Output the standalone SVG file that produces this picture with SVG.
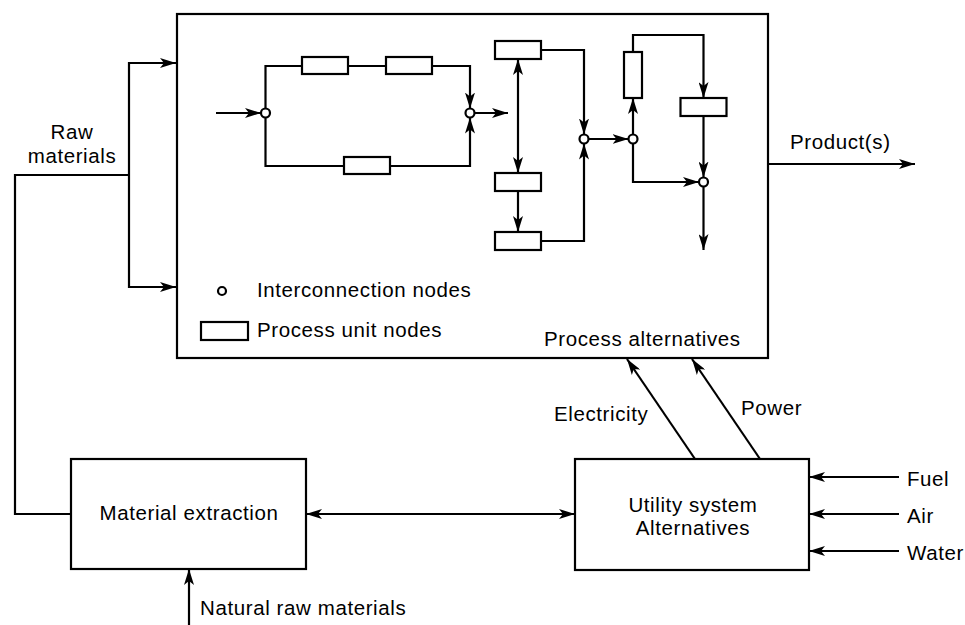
<svg xmlns="http://www.w3.org/2000/svg" width="965" height="625" viewBox="0 0 965 625">
<defs>
<marker id="ah" viewBox="0 0 16 10" refX="16" refY="5" markerWidth="16" markerHeight="10" markerUnits="userSpaceOnUse" orient="auto-start-reverse">
<path d="M0,0 L16,5 L0,10 L4,5 z" fill="#000"/>
</marker>
<style>
.b{fill:#fff;stroke:#000;stroke-width:2.2}
.l{fill:none;stroke:#000;stroke-width:2.2}
.a{fill:none;stroke:#000;stroke-width:2.2;marker-end:url(#ah)}
.d{fill:none;stroke:#000;stroke-width:2.2;marker-start:url(#ah);marker-end:url(#ah)}
.n{fill:#fff;stroke:#000;stroke-width:2.2}
text{font-family:"Liberation Sans",Arial,sans-serif;font-size:20.5px;letter-spacing:0.6px;fill:#000}
.c{text-anchor:middle}
</style>
</defs>
<rect width="965" height="625" fill="#fff"/>

<g id="process-alternatives">
<rect class="b" x="177" y="14" width="591" height="344"/>
<text x="544" y="346">Process alternatives</text>
</g>

<g id="connectors">
<path class="l" d="M71,514 H15 V175 H129"/>
<path class="d" d="M176,63 H129 V287 H176"/>
<path class="a" d="M216,113 H261"/>
<path class="a" d="M265.5,108.5 V66 H470 V108.5"/>
<path class="a" d="M265.5,117.5 V166 H470 V117.5"/>
<path class="a" d="M474.5,113 H508"/>
<path class="d" d="M518,59 V173"/>
<path class="a" d="M518,191 V232"/>
<path class="a" d="M541,50 H584 V134.5"/>
<path class="a" d="M541,241 H584 V143.5"/>
<path class="a" d="M588.5,139 H628.5"/>
<path class="a" d="M633,134.5 V98"/>
<path class="a" d="M633,52 V35 H703.5 V98"/>
<path class="a" d="M703.5,116 V177.5"/>
<path class="a" d="M633,143.5 V182 H699"/>
<path class="a" d="M703.5,186.5 V250"/>
<path class="a" d="M768,164 H915"/>
<path class="a" d="M695,459 L627,359"/>
<path class="a" d="M760,459 L692,359"/>
<path class="a" d="M899,477 H809"/>
<path class="a" d="M899,514 H809"/>
<path class="a" d="M899,551 H809"/>
<path class="d" d="M306,514 H575"/>
<path class="a" d="M189,625 V569"/>
</g>

<g id="unit-1"><rect class="b" x="302" y="57" width="46" height="17"/></g>
<g id="unit-2"><rect class="b" x="386" y="57" width="46" height="17"/></g>
<g id="unit-3"><rect class="b" x="344" y="157" width="46" height="17"/></g>
<g id="unit-a"><rect class="b" x="495" y="41" width="46" height="18"/></g>
<g id="unit-b"><rect class="b" x="495" y="173" width="46" height="18"/></g>
<g id="unit-c"><rect class="b" x="495" y="232" width="46" height="18"/></g>
<g id="unit-f"><rect class="b" x="624" y="52" width="18" height="46"/></g>
<g id="unit-g"><rect class="b" x="680.5" y="98" width="46" height="18"/></g>

<g id="node-1"><circle class="n" cx="265.5" cy="113" r="4.5"/></g>
<g id="node-2"><circle class="n" cx="470" cy="113" r="4.5"/></g>
<g id="node-3"><circle class="n" cx="584" cy="139" r="4.5"/></g>
<g id="node-4"><circle class="n" cx="633" cy="139" r="4.5"/></g>
<g id="node-5"><circle class="n" cx="703.5" cy="182" r="4.5"/></g>

<g id="legend">
<circle class="n" cx="222" cy="291" r="4"/>
<text x="257" y="297">Interconnection nodes</text>
<rect class="b" x="201" y="322" width="47" height="18"/>
<text x="257" y="337">Process unit nodes</text>
</g>

<g id="labels">
<text class="c" x="72" y="139">Raw</text>
<text class="c" x="72" y="163">materials</text>
<text x="790" y="149">Product(s)</text>
<text x="554" y="421">Electricity</text>
<text x="741" y="415">Power</text>
<text x="907" y="486">Fuel</text>
<text x="907" y="523">Air</text>
<text x="907" y="560">Water</text>
<text x="200" y="615">Natural raw materials</text>
</g>

<g id="utility-system">
<rect class="b" x="575" y="459" width="234" height="111"/>
<text class="c" x="693" y="512">Utility system</text>
<text class="c" x="693" y="535">Alternatives</text>
</g>

<g id="material-extraction">
<rect class="b" x="71" y="459" width="235" height="110"/>
<text class="c" x="189" y="520">Material extraction</text>
</g>
</svg>
